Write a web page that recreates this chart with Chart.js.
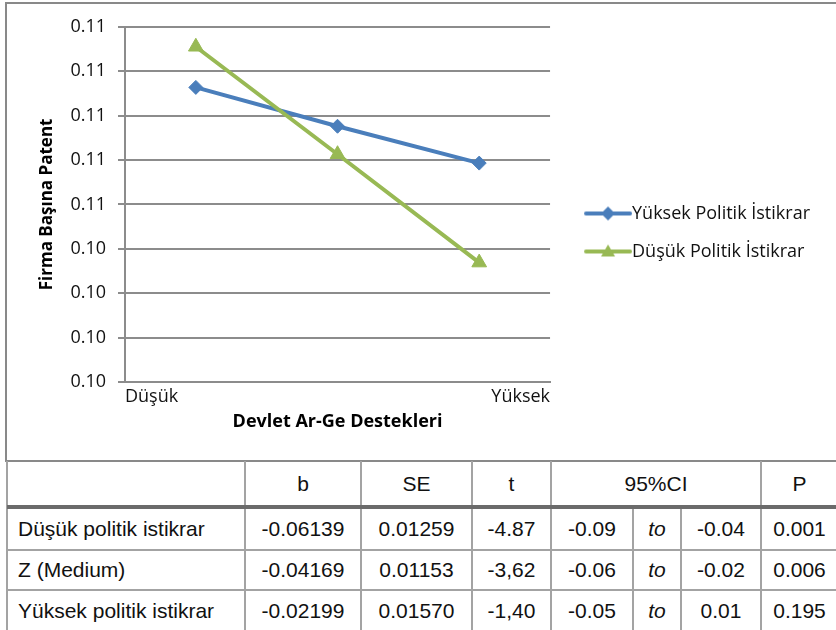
<!DOCTYPE html>
<html><head><meta charset="utf-8">
<script src="https://cdn.jsdelivr.net/npm/chart.js@4.4.1/dist/chart.umd.min.js"></script>
<style>
html,body{margin:0;padding:0;background:#fff;overflow:hidden;width:836px;height:630px;}
#box{position:absolute;left:5px;top:2px;width:900px;height:456px;border:2px solid #898989;}
#wrap{position:absolute;left:0;top:0;width:829px;height:456px;}
.cell{position:absolute;display:flex;align-items:center;justify-content:center;font-family:"Liberation Sans",Arial,sans-serif;font-size:21px;color:#111;white-space:nowrap;}
.ln{position:absolute;background:#a3a3a3;}
</style></head><body>
<div id="box"><div id="wrap"><canvas id="cv"></canvas></div></div>
<div id="tbl"></div>
<script>
// ---- chart data ----
const categories = ['Düşük', '', 'Yüksek'];
const seriesNames = ['Yüksek Politik İstikrar', 'Düşük Politik İstikrar'];
const yuksekValues = [0.11127, 0.10952, 0.10786];
const dusukValues = [0.11310, 0.10826, 0.10338];
const yMin = 0.098, yMax = 0.114, yStep = 0.002;
const yTitle = 'Firma Başına Patent';
const xTitle = 'Devlet Ar-Ge Destekleri';

// ---- table data ----
const tableHeaders = ['', 'b', 'SE', 't', '95%CI', 'P'];
const rowLabels = ['Düşük politik istikrar', 'Z (Medium)', 'Yüksek politik istikrar'];
const bVals = ['-0.06139', '-0.04169', '-0.02199'];
const seVals = ['0.01259', '0.01153', '0.01570'];
const tVals = ['-4.87', '-3,62', '-1,40'];
const ciLow = ['-0.09', '-0.06', '-0.05'];
const ciWord = 'to';
const ciHigh = ['-0.04', '-0.02', '0.01'];
const pVals = ['0.001', '0.006', '0.195'];

const BLUE = '#4A7EBB', GREEN = '#98B954', GRID = '#8c8c8c', TXT = '#111';
const FONT = "'Open Sans'";

function legendIcon(color, style) {
  const c = document.createElement('canvas');
  c.width = 71; c.height = 20;
  const g = c.getContext('2d');
  g.strokeStyle = color; g.lineWidth = 4; g.lineCap = 'round';
  g.beginPath(); g.moveTo(25, 10); g.lineTo(69, 10); g.stroke();
  g.fillStyle = color;
  g.beginPath();
  if (style === 'diamond') {
    g.moveTo(47, 3); g.lineTo(54, 10); g.lineTo(47, 17); g.lineTo(40, 10);
  } else {
    g.moveTo(47, 3); g.lineTo(54, 15); g.lineTo(40, 15);
  }
  g.closePath(); g.fill();
  return c;
}
const icons = [legendIcon(BLUE, 'diamond'), legendIcon(GREEN, 'triangle')];

const toPts = arr => arr.map((v, i) => ({x: i + 0.5, y: v}));

new Chart(document.getElementById('cv'), {
  type: 'line',
  data: {
    datasets: [
      {label: seriesNames[0], data: toPts(yuksekValues), borderColor: BLUE, backgroundColor: BLUE,
       borderWidth: 4, pointStyle: 'rectRot', pointRadius: 7, pointBorderWidth: 1, order: 1},
      {label: seriesNames[1], data: toPts(dusukValues), borderColor: GREEN, backgroundColor: GREEN,
       borderWidth: 4, pointStyle: 'triangle', pointRadius: 8.5, pointBorderWidth: 1, order: 0}
    ]
  },
  options: {
    responsive: true, maintainAspectRatio: false, animation: false,
    layout: {padding: {left: 0, top: 21, right: 16, bottom: 20}},
    scales: {
      x: {
        type: 'linear', min: 0, max: categories.length,
        afterBuildTicks: s => { s.ticks = [{value: 0}, {value: categories.length}]; },
        ticks: {align: 'inner', maxRotation: 0, autoSkip: false, padding: 4,
                font: {family: FONT, size: 18}, color: TXT,
                callback: (v, i) => i === 0 ? categories[0] : categories[categories.length - 1]},
        grid: {display: false, drawTicks: false},
        border: {display: true, color: GRID, width: 2},
        title: {display: true, text: xTitle, color: '#000',
                font: {family: FONT, size: 18, weight: 'bold'}, padding: {top: 0, bottom: 7}},
        afterFit: s => { s.height = 58; }
      },
      y: {
        min: yMin, max: yMax,
        ticks: {stepSize: yStep, padding: 12, font: {family: FONT, size: 18}, color: TXT,
                callback: v => v.toFixed(2)},
        grid: {color: GRID, lineWidth: 2, tickLength: 7},
        border: {display: true, color: GRID, width: 2},
        title: {display: true, text: yTitle, color: '#000',
                font: {family: FONT, size: 17, weight: 'bold'}, padding: {top: 30, bottom: 0}},
        afterFit: s => { s.width = 118; }
      }
    },
    plugins: {
      tooltip: {enabled: false},
      legend: {
        position: 'right', align: 'center', maxWidth: 400,
        labels: {
          usePointStyle: true, pointStyleWidth: 53, padding: 20,
          font: {family: FONT, size: 18}, color: TXT,
          sort: (a, b) => a.datasetIndex - b.datasetIndex,
          generateLabels: chart => {
            const items = Chart.defaults.plugins.legend.labels.generateLabels(chart);
            items.forEach(it => { it.pointStyle = icons[it.datasetIndex]; });
            return items;
          }
        }
      }
    }
  }
});

// ---- table ----
const tbl = document.getElementById('tbl');
const xs = [7, 245, 361, 472, 551, 633, 681, 761, 838];
const ys = [461, 507, 550, 590, 632];
function cell(text, x0, x1, y0, y1, opts = {}) {
  const d = document.createElement('div');
  d.className = 'cell';
  d.textContent = text;
  d.style.left = x0 + 'px'; d.style.width = (x1 - x0) + 'px';
  d.style.top = y0 + 'px'; d.style.height = (y1 - y0) + 'px';
  if (opts.left) { d.style.justifyContent = 'flex-start'; d.style.paddingLeft = '11px'; d.style.boxSizing = 'border-box'; }
  if (opts.italic) d.style.fontStyle = 'italic';
  tbl.appendChild(d);
}
function line(x, y, w, h, color) {
  const d = document.createElement('div');
  d.className = 'ln';
  d.style.left = x + 'px'; d.style.top = y + 'px'; d.style.width = w + 'px'; d.style.height = h + 'px';
  if (color) d.style.background = color;
  tbl.appendChild(d);
}
// header
const hdrSpans = [[0, 1], [1, 2], [2, 3], [3, 4], [4, 7], [7, 8]];
hdrSpans.forEach((sp, i) => cell(tableHeaders[i], xs[sp[0]], xs[sp[1]], ys[0], ys[1]));
// rows
rowLabels.forEach((lab, r) => {
  const y0 = ys[r + 1], y1 = ys[r + 2];
  const vals = [bVals[r], seVals[r], tVals[r], ciLow[r], ciWord, ciHigh[r], pVals[r]];
  cell(lab, xs[0], xs[1], y0, y1, {left: true});
  vals.forEach((v, c) => cell(v, xs[c + 1], xs[c + 2], y0, y1, {italic: v === ciWord}));
});
// grid lines
xs.slice(0, 8).forEach((x, i) => {
  if (i === 5 || i === 6) line(x - 1, ys[1], 2, 200);
  else line(x - 1, ys[0], 2, 220);
});
line(7, ys[1] - 2, 900, 4, '#6b6b6b');
line(7, ys[2] - 1, 900, 2);
line(7, ys[3] - 1, 900, 2);
</script>
</body></html>
